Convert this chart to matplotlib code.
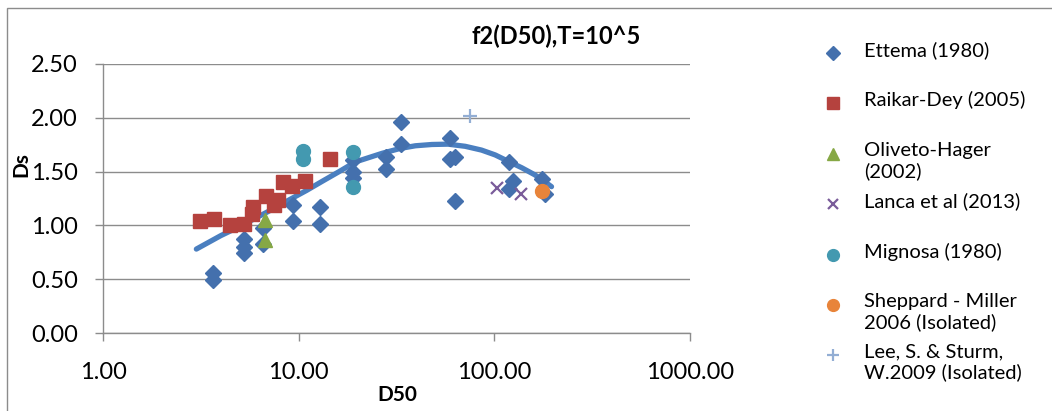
import numpy as np
import matplotlib
matplotlib.use("Agg")
import matplotlib.pyplot as plt
from matplotlib.patches import Rectangle

plt.rcParams["font.family"] = ["Lato", "DejaVu Sans"]

# ── data ────────────────────────────────────────────────────────────────────
ettema_x = [3.64, 3.64, 5.28, 5.28, 5.28, 6.6, 6.6, 9.38, 9.38, 12.86, 12.86,
            18.9, 18.9, 18.9, 27.8, 27.8, 33.5, 33.5, 59.5, 59.5, 62.6, 62.6,
            118.8, 124.0, 118.8, 176.0, 181.0]
ettema_y = [0.555, 0.49, 0.87, 0.80, 0.74, 0.98, 0.83, 1.19, 1.04, 1.17, 1.01,
            1.61, 1.50, 1.44, 1.64, 1.52, 1.96, 1.76, 1.81, 1.62, 1.64, 1.23,
            1.59, 1.415, 1.335, 1.43, 1.29]

raikar_x = [3.12, 3.69, 4.47, 5.28, 5.78, 5.82, 6.81, 7.45, 7.80, 8.34, 9.23, 10.8, 14.5]
raikar_y = [1.04, 1.06, 1.005, 1.013, 1.11, 1.17, 1.27, 1.19, 1.24, 1.40, 1.37, 1.41, 1.62]

oliveto_x = [6.75, 6.75]
oliveto_y = [1.05, 0.86]

lanca_x = [102.8, 136.7]
lanca_y = [1.35, 1.29]

mignosa_x = [10.5, 10.5, 18.9, 18.9]
mignosa_y = [1.69, 1.62, 1.68, 1.355]

sheppard_x = [176.0]
sheppard_y = [1.32]

lee_x = [75.2]
lee_y = [2.02]

# f2(D50) curve
f2_x = [3.0, 4.0, 5.0, 7.0, 9.0, 11.0, 13.2, 16.1, 19.5, 26.7, 33.0, 39.5, 48.0,
        58.0, 71.0, 86.0, 101.0, 118.0, 138.0, 161.0, 181.0, 196.0]
f2_y = [0.78, 0.905, 0.99, 1.13, 1.24, 1.326, 1.41, 1.50, 1.59, 1.67, 1.715, 1.74, 1.752,
        1.755, 1.735, 1.70, 1.655, 1.595, 1.536, 1.47, 1.406, 1.36]

x_ticks = [1, 10, 100, 1000]
y_ticks = [0.0, 0.5, 1.0, 1.5, 2.0, 2.5]

series = [
    ("Ettema (1980)", ettema_x, ettema_y, dict(marker="D", color="#4470ad", ms=8.5)),
    ("Raikar-Dey (2005)", raikar_x, raikar_y, dict(marker="s", color="#b5423e", ms=9.5)),
    ("Oliveto-Hager\n(2002)", oliveto_x, oliveto_y, dict(marker="^", color="#86a845", ms=10)),
    ("Lanca et al (2013)", lanca_x, lanca_y, dict(marker="x", color="#7a5c9a", ms=9, mew=1.6)),
    ("Mignosa (1980)", mignosa_x, mignosa_y, dict(marker="o", color="#4399b0", ms=10)),
    ("Sheppard - Miller\n2006 (Isolated)", sheppard_x, sheppard_y, dict(marker="o", color="#e8843a", ms=10)),
    ("Lee, S. & Sturm,\nW.2009 (Isolated)", lee_x, lee_y, dict(marker="+", color="#93aed4", ms=10, mew=1.6)),
]

W, H = 1052, 411
fig = plt.figure(figsize=(W / 100, H / 100), dpi=100, facecolor="white")

# outer chart frame (only left/top visible in the crop)
fig.patches.append(Rectangle((7 / W, -0.1), 1.2, (H - 8) / H + 0.1,
                             transform=fig.transFigure, fill=False,
                             edgecolor="#8c8c8c", lw=1.0))

ax = fig.add_axes([103 / W, (H - 333) / H, (690 - 103) / W, (333 - 64) / H])
ax.set_xscale("log")
ax.set_xlim(1, 1000)
ax.set_ylim(0, 2.5)

ax.plot(f2_x, f2_y, color="#4a7fc0", lw=3.8, solid_capstyle="round", zorder=2)
for label, xs, ys, kw in series:
    ax.plot(xs, ys, ls="none", zorder=3, **kw)

ax.set_xticks(x_ticks)
ax.set_xticklabels([f"{v:.2f}" for v in x_ticks])
ax.xaxis.set_minor_locator(matplotlib.ticker.NullLocator())
ax.set_yticks(y_ticks)
ax.set_yticklabels([f"{v:.2f}" for v in y_ticks])

ax.grid(axis="y", color="#8c8c8c", lw=1.0)
ax.set_axisbelow(True)
for s in ["top", "right"]:
    ax.spines[s].set_visible(False)
for s in ["left", "bottom"]:
    ax.spines[s].set_color("#8c8c8c")
    ax.spines[s].set_linewidth(1.0)
ax.tick_params(axis="both", colors="#8c8c8c", labelcolor="black",
               labelsize=17, length=6, width=1.0, direction="out")
ax.tick_params(axis="y", pad=12)
ax.tick_params(axis="x", pad=15)

ax.set_xlabel("D50", fontsize=15, fontweight="bold")
ax.set_ylabel("Ds", fontsize=15, fontweight="bold")
ax.xaxis.set_label_coords((397 - 103) / (690 - 103), -(385 - 333) / (333 - 64))
ax.yaxis.set_label_coords(-(103 - 31) / (690 - 103), (333 - 165) / (333 - 64))

fig.text(556 / W, 1 - 36 / H, "f2(D50),T=10^5", fontsize=17, fontweight="bold",
         ha="center", va="center")

# legend drawn by hand to keep the equal slot spacing
lax = fig.add_axes([0, 0, 1, 1], facecolor="none")
lax.set_xlim(0, W)
lax.set_ylim(H, 0)
lax.axis("off")
for i, (label, xs, ys, kw) in enumerate(series):
    yy = 53 + i * 50.4
    lkw = dict(kw)
    lkw["ms"] = kw["ms"] * 0.85
    lax.plot([833], [yy], ls="none", **lkw)
    lax.text(864, yy - 12, label, fontsize=14.5, va="top", ha="left",
             linespacing=1.2)

fig.savefig("out.png", dpi=100, facecolor="white")
